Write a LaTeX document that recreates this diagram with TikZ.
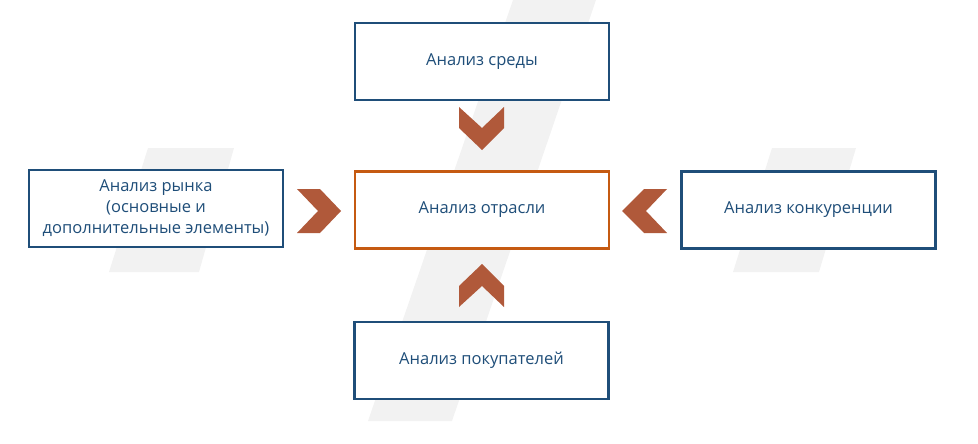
\documentclass[tikz,border=0pt]{standalone}
\usepackage{fontspec}
\setmainfont{Open Sans}
\definecolor{nblue}{HTML}{1F4E79}
\definecolor{norange}{HTML}{C55A11}
\definecolor{chev}{HTML}{B0593A}
\definecolor{slash}{HTML}{F2F2F2}
\begin{document}
\begin{tikzpicture}[x=1pt,y=-1pt,
  box/.style={draw=nblue,line width=2.5pt,fill=white,minimum width=254pt,minimum height=77pt,
    text=nblue,font=\fontsize{16.5}{21}\selectfont,align=center,inner sep=0pt},
  chevshape/.style={fill=chev}]
\useasboundingbox (0,0) rectangle (978,444);
\fill[slash] (513,0)--(596,0)--(452,421)--(368,421)--cycle;
\fill[slash] (148,148)--(234,148)--(199,272)--(109,272)--cycle;
\fill[slash] (772,148)--(856,148)--(819,272)--(733,272)--cycle;
\node[box] (top) at (482,61.5) {Анализ среды};
\node[box,draw=norange] (center) at (482,210) {Анализ отрасли};
\node[box] (left) at (156,208.5) {Анализ рынка\\(основные и\\дополнительные элементы)};
\node[box] (right) at (808.5,210) {Анализ конкуренции};
\node[box] (bottom) at (481.5,360.5) {Анализ покупателей};
\fill[chevshape] (459,107)--(482,128)--(504,107)--(504,128)--(482,150)--(459,128)--cycle;
\fill[chevshape] (459,307)--(459,286)--(482,264)--(504,286)--(504,307)--(482,286)--cycle;
\fill[chevshape] (297,189)--(320,189)--(341,211)--(320,233)--(297,233)--(318,211)--cycle;
\fill[chevshape] (667,189)--(644,189)--(622,211)--(644,233)--(667,233)--(646,211)--cycle;
\end{tikzpicture}
\end{document}
